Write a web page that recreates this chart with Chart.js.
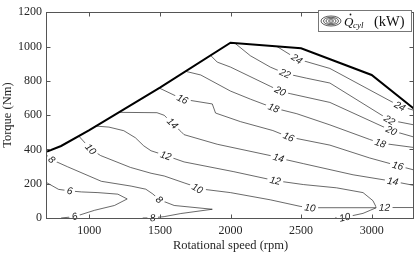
<!DOCTYPE html>
<html><head><meta charset="utf-8">
<script src="https://cdn.jsdelivr.net/npm/chart.js@4.4.1/dist/chart.umd.min.js"></script>
<style>html,body{margin:0;padding:0;background:#fff;}#wrap{width:415px;height:254px;}</style>
</head><body><div id="wrap"><canvas id="c" width="415" height="254"></canvas></div>
<script>
// ---- data (rpm, torque Nm) ----
const xTicks = [1000, 1500, 2000, 2500, 3000];
const yTicks = [0, 200, 400, 600, 800, 1000, 1200];
const levels = [6, 8, 10, 12, 14, 16, 18, 20, 22, 24];
const fullLoad = [[700,388],[800,420],[1000,512],[1500,760],[2000,1022],[2500,990],[3000,834],[3300,637]];
const contour6  = [[700,205],[782,167],[861,158],[944,152],[1061,148],[1202,139],[1268,111],[1178,73],[1037,45],[896,8],[800,0]];
const contour8  = [[700,364],[734,340],[845,299],[1085,214],[1296,186],[1400,168],[1450,140],[1495,107],[1601,73],[1871,51],[1648,26],[1530,8],[1449,1],[1378,0]];
const contour10 = [[925,478],[1009,402],[1080,364],[1291,295],[1437,261],[1530,245],[1671,205],[1718,192],[1765,172],[2000,148],[2282,106],[2493,68],[2563,60],[3033,60],[2939,27],[2810,4],[2740,0]];
const contour12 = [[1044,536],[1139,530],[1244,509],[1326,468],[1385,421],[1437,392],[1542,364],[1671,327],[2024,270],[2282,224],[2317,218],[2516,195],[2751,176],[2939,148],[3009,101],[3033,62],[3091,61],[3300,61]];
const contour14 = [[1209,616],[1479,614],[1530,599],[1589,552],[1648,505],[1671,486],[1906,430],[2282,364],[2340,350],[2516,317],[2868,252],[3150,214],[3300,190]];
const contour16 = [[1495,758],[1660,693],[1871,665],[1894,612],[2070,562],[2300,510],[2411,473],[2704,425],[2986,350],[3185,305],[3300,280]];
const contour18 = [[1683,855],[1789,834],[2000,740],[2141,693],[2305,642],[2470,608],[2704,543],[2986,458],[3062,437],[3300,411]];
const contour20 = [[1859,948],[1906,909],[2000,880],[2282,768],[2352,740],[2423,725],[2704,674],[3140,510],[3300,472]];
const contour22 = [[2030,1020],[2141,946],[2282,880],[2387,843],[2540,815],[2704,787],[3127,571],[3300,543]];
const contour24 = [[2329,1000],[2470,928],[2704,872],[3200,652],[3300,628]];
const labels6  = [[861,158],[896,8]];
const labels8  = [[734,340],[1495,107],[1449,1]];
const labels10 = [[1009,402],[1765,172],[2563,60],[2810,4]];
const labels12 = [[1542,364],[2317,218],[3091,61]];
const labels14 = [[1589,552],[2340,350],[3150,214]];
const labels16 = [[1660,693],[2411,473],[3185,305]];
const labels18 = [[2305,642],[3062,437]];
const labels20 = [[2352,740],[3140,510]];
const labels22 = [[2387,843],[3127,571]];
const labels24 = [[2470,928],[3200,652]];

const contourLines = [contour6,contour8,contour10,contour12,contour14,contour16,contour18,contour20,contour22,contour24];
const contourLabels = [labels6,labels8,labels10,labels12,labels14,labels16,labels18,labels20,labels22,labels24];
const toXY = a => a.map(([x,y]) => ({x, y}));

const SERIF = "'Liberation Serif','DejaVu Serif',serif";
const datasets = [{data: toXY(fullLoad), showLine:true, borderColor:'#000', borderWidth:2, pointRadius:0, tension:0}];
contourLines.forEach(c => datasets.push({data: toXY(c), showLine:true, borderColor:'rgba(20,20,20,0.8)', borderWidth:0.8, pointRadius:0, tension:0}));

const labelPlugin = {
  id:'clabels',
  afterDatasetsDraw(chart){
    const {ctx, scales:{x, y}} = chart;
    ctx.save();
    ctx.font = "italic 10px 'Liberation Sans', Arial, sans-serif";
    ctx.textAlign = 'center'; ctx.textBaseline = 'middle';
    contourLines.forEach((line, k) => {
      const pts = line.map(([a,b]) => [x.getPixelForValue(a), y.getPixelForValue(b)]);
      contourLabels[k].forEach(([a,b]) => {
        const px = x.getPixelForValue(a), py = y.getPixelForValue(b);
        let best = null;
        for (let i = 0; i < pts.length-1; i++) {
          const [x1,y1] = pts[i], [x2,y2] = pts[i+1];
          const dx = x2-x1, dy = y2-y1, L = dx*dx+dy*dy;
          let t = L ? ((px-x1)*dx+(py-y1)*dy)/L : 0; t = Math.max(0, Math.min(1, t));
          const qx = x1+t*dx, qy = y1+t*dy, d = (qx-px)**2+(qy-py)**2;
          if (!best || d < best.d) best = {d, qx, qy, ang: Math.atan2(dy, dx)};
        }
        let ang = best.ang;
        if (ang > Math.PI/2) ang -= Math.PI;
        if (ang < -Math.PI/2) ang += Math.PI;
        const text = String(levels[k]);
        const w = ctx.measureText(text).width;
        ctx.save(); ctx.translate(best.qx, best.qy); ctx.rotate(ang);
        ctx.fillStyle = '#fff'; ctx.fillRect(-w/2-2.5, -4, w+5, 8);
        ctx.fillStyle = '#1a1a1a'; ctx.fillText(text, 0, 0.5);
        ctx.restore();
      });
    });
    ctx.restore();
  },
  afterDraw(chart){
    const {ctx, chartArea:{left, right, top, bottom}, scales:{x, y}} = chart;
    ctx.save();
    ctx.strokeStyle = '#555'; ctx.lineWidth = 1;
    const L = Math.round(left)-0.5, R = Math.round(right)-0.5, T = Math.round(top)+0.5, B = Math.round(bottom)+0.5;
    ctx.strokeRect(L, T, R-L, B-T);
    ctx.beginPath();
    xTicks.forEach(v => { const p = Math.round(x.getPixelForValue(v))+0.5; ctx.moveTo(p,B); ctx.lineTo(p,B-4); ctx.moveTo(p,T); ctx.lineTo(p,T+4); });
    yTicks.forEach(v => { const p = Math.round(y.getPixelForValue(v))+0.5; ctx.moveTo(L,p); ctx.lineTo(L+4,p); ctx.moveTo(R,p); ctx.lineTo(R-4,p); });
    ctx.stroke();
    // legend
    ctx.fillStyle = '#fff'; ctx.fillRect(318, 10, 94, 22);
    ctx.strokeStyle = '#777'; ctx.strokeRect(318.5, 10.5, 93, 21);
    ctx.strokeStyle = '#333'; ctx.lineWidth = 0.8;
    [[10,5],[7.5,3.7],[5,2.4],[2.5,1.2]].forEach(([rx,ry]) => { ctx.beginPath(); ctx.ellipse(331, 21, rx, ry, 0, 0, Math.PI*2); ctx.stroke(); });
    ctx.fillStyle = '#111'; ctx.textBaseline = 'alphabetic'; ctx.textAlign = 'left';
    ctx.font = "italic 13px " + SERIF;
    ctx.fillText('Q', 344, 26);
    ctx.beginPath(); ctx.arc(350.5, 14.5, 0.9, 0, Math.PI*2); ctx.fill();
    ctx.font = "italic 9px " + SERIF;
    ctx.fillText('cyl', 353, 28);
    ctx.font = "14.5px " + SERIF;
    ctx.fillText('(kW)', 374, 26);
    ctx.restore();
  }
};

new Chart(document.getElementById('c'), {
  type:'scatter',
  data:{datasets},
  options:{
    responsive:false, animation:false, devicePixelRatio:1,
    layout:{padding:{top:5, right:1, left:0, bottom:0}},
    plugins:{legend:{display:false}, tooltip:{enabled:false}},
    scales:{
      x:{type:'linear', min:700, max:3300,
        afterBuildTicks: s => { s.ticks = xTicks.map(v => ({value:v})); },
        afterFit: s => { s.height = 36; },
        grid:{display:false, drawTicks:false}, border:{display:false},
        ticks:{font:{family:SERIF, size:12}, color:'#262626', padding:6, maxRotation:0, callback: v => String(v)},
        title:{display:true, text:'Rotational speed (rpm)', font:{family:SERIF, size:12.5}, color:'#262626', padding:{top:0, bottom:1}}
      },
      y:{type:'linear', min:0, max:1200,
        afterBuildTicks: s => { s.ticks = yTicks.map(v => ({value:v})); },
        afterFit: s => { s.width = 47; },
        grid:{display:false, drawTicks:false}, border:{display:false},
        ticks:{font:{family:SERIF, size:12}, color:'#262626', padding:5, callback: v => String(v)},
        title:{display:true, text:'Torque (Nm)', font:{family:SERIF, size:12.5}, color:'#262626', padding:{top:0, bottom:0}}
      }
    }
  },
  plugins:[labelPlugin]
});
</script></body></html>
